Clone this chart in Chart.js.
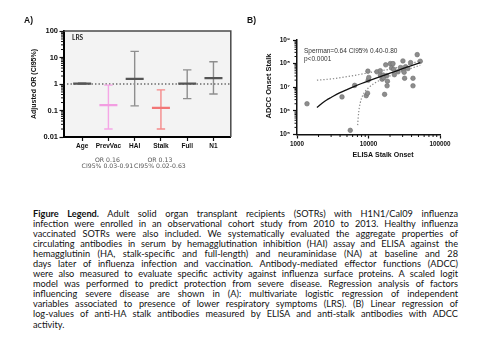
<!DOCTYPE html>
<html><head><meta charset="utf-8">
<script src="https://cdn.jsdelivr.net/npm/chart.js@4.4.1/dist/chart.umd.min.js"></script>
<style>
html,body{margin:0;padding:0;background:#fff;width:485px;height:357px;overflow:hidden;}
#ca{position:absolute;left:0;top:0;}
#cb{position:absolute;left:242px;top:0;}
#legend{position:absolute;left:33px;top:208.5px;width:425px;font-family:Lato,'Liberation Sans',sans-serif;font-size:9.2px;line-height:10.1px;color:#111;}
#legend div{text-align:justify;text-align-last:justify;white-space:normal;height:10.1px;}
#legend div.last{text-align-last:left;}
</style></head>
<body>
<canvas id="ca" width="242" height="175"></canvas>
<canvas id="cb" width="243" height="175"></canvas>
<div id="legend">
<div><b>Figure Legend.</b> Adult solid organ transplant recipients (SOTRs) with H1N1/Cal09 influenza</div>
<div>infection were enrolled in an observational cohort study from 2010 to 2013. Healthy influenza</div>
<div>vaccinated SOTRs were also included. We systematically evaluated the aggregate properties of</div>
<div>circulating antibodies in serum by hemagglutination inhibition (HAI) assay and ELISA against the</div>
<div>hemagglutinin (HA, stalk-specific and full-length) and neuraminidase (NA) at baseline and 28</div>
<div>days later of influenza infection and vaccination. Antibody-mediated effector functions (ADCC)</div>
<div>were also measured to evaluate specific activity against influenza surface proteins. A scaled logit</div>
<div>model was performed to predict protection from severe disease. Regression analysis of factors</div>
<div>influencing severe disease are shown in (A): multivariate logistic regression of independent</div>
<div>variables associated to presence of lower respiratory symptoms (LRS). (B) Linear regression of</div>
<div>log-values of anti-HA stalk antibodies measured by ELISA and anti-stalk antibodies with ADCC</div>
<div class="last">activity.</div>
</div>
<script>
// ---------- Panel A data ----------
const categories = ['Age','PrevVac','HAI','Stalk','Full','N1'];
const orMean = [1.04, 0.16, 1.55, 0.125, 1.04, 1.66];
const orLow  = [0.97, 0.02, 0.15, 0.02, 0.28, 0.42];
const orHigh = [1.10, 0.91, 17, 0.60, 3.4, 6.9];
const groupKind = ['gray','pink','gray','red','gray','gray'];
const yTicksA = [0.01, 0.1, 1, 10, 100];
const yTickLabelsA = ['0.01','0.1','1','10','100'];
const noteCategory = ['PrevVac','Stalk'];
const noteLine1 = ['OR 0.16','OR 0.13'];
const noteLine2 = ['CI95% 0.03-0.91','CI95% 0.02-0.63'];
const referenceOR = 1;

// ---------- Panel B data ----------
const elisaStalk = [1380, 4260, 5560, 6400, 9300, 9700, 9800, 9900, 10100, 13100, 14600, 14700, 15500, 16000, 16300, 16800, 17400, 18000, 18200, 18400, 20200, 21000, 22000, 22500, 23000, 25900, 28000, 30300, 30800, 31500, 32000, 33000, 35600, 38800, 41900, 41900, 48000, 53000];
const adccStalk  = [2.0e6, 3.9e6, 1.5e5, 1.2e7, 4.4e6, 5.6e6, 4.8e7, 2.0e7, 2.6e7, 4.5e7, 5.0e7, 3.2e7, 2.2e7, 3.3e7, 2.5e7, 5.0e6, 8.9e7, 3.1e7, 1.15e7, 1.8e7, 1.0e8, 6.5e7, 1.0e8, 5.8e7, 3.4e7, 4.5e7, 6.8e7, 1.3e8, 5.3e7, 4.3e7, 2.4e7, 7.4e7, 6.2e7, 1.1e8, 2.4e7, 1.15e7, 2.4e8, 1.26e8];
const fitX = [1900, 2200, 2600, 3000, 4000, 5000, 6500, 8000, 10000, 14000, 20000, 30000, 40000, 53000];
const fitY = [1.4e6, 2.0e6, 2.9e6, 3.7e6, 5.9e6, 8.0e6, 1.12e7, 1.44e7, 1.86e7, 2.7e7, 4.0e7, 6.1e7, 8.2e7, 1.1e8];
const ciUpX = [1900, 3000, 5000, 8000, 10000, 15000, 20000, 30000, 40000, 53000];
const ciUpY = [2.0e7, 2.25e7, 2.8e7, 3.6e7, 4.1e7, 5.0e7, 5.8e7, 7.8e7, 1.0e8, 1.4e8];
const ciLoX = [7050, 7300, 7700, 8300, 9000, 10000, 12000, 15000, 20000, 30000, 40000, 53000];
const ciLoY = [2.5e5, 9e5, 2.3e6, 4.5e6, 6.8e6, 9.5e6, 1.45e7, 2.1e7, 3.0e7, 4.7e7, 6.4e7, 8.5e7];
const xTicksB = [1000, 10000, 100000];
const xTickLabelsB = ['1000','10000','100000'];
const yTicksB = [1e5, 1e6, 1e7, 1e8, 1e9];
const yTickLabelsB = ['10\u2075','10\u2076','10\u2077','10\u2078','10\u2079'];
const statLine1 = 'Sperman=0.64 CI95% 0.40-0.80';
const statLine2 = 'p<0.0001';
const minorMultiples = [2,3,4,5,6,7,8,9];

// ---------- styles ----------
const FONT = "'Liberation Sans', Arial, sans-serif";
Chart.defaults.font.family = FONT;
const palette = {
  gray: {bar:'#8e8e8e', mean:'#555555'},
  pink: {bar:'#f5a6e6', mean:'#f29de1'},
  red:  {bar:'#f58a8a', mean:'#f27676'}
};

const minorTicks = {
  id: 'minorTicks',
  afterDraw(chart, args, opts) {
    const ctx = chart.ctx;
    (opts.axes || []).forEach(a => {
      const s = chart.scales[a.id];
      ctx.save();
      ctx.strokeStyle = a.color || '#111';
      ctx.lineWidth = a.width || 1;
      ctx.beginPath();
      for (let k = 0; k < a.decades.length - 1; k++) {
        minorMultiples.forEach(m => {
          const v = a.decades[k] * m;
          const p = s.getPixelForValue(v);
          if (s.isHorizontal()) {
            ctx.moveTo(p, s.top); ctx.lineTo(p, s.top + a.len);
          } else {
            ctx.moveTo(s.right, p); ctx.lineTo(s.right - a.len, p);
          }
        });
      }
      ctx.stroke();
      ctx.restore();
    });
  }
};

// ---------- Chart A ----------
const frameA = {
  id: 'frameA',
  beforeDraw(chart) {
    const {ctx, chartArea: c} = chart;
    ctx.save();
    ctx.fillStyle = '#f3f3f3';
    ctx.fillRect(c.left, c.top, c.right - c.left, c.bottom - c.top);
    ctx.restore();
  },
  afterDraw(chart) {
    const {ctx, chartArea: c, scales} = chart;
    ctx.save();
    ctx.strokeStyle = '#4a4a4a';
    ctx.lineWidth = 1.5;
    ctx.beginPath();
    ctx.moveTo(c.left, c.top); ctx.lineTo(c.right, c.top); ctx.lineTo(c.right, c.bottom);
    ctx.stroke();
    ctx.fillStyle = '#111';
    ctx.textBaseline = 'middle';
    ctx.font = 'bold 8.5px ' + FONT;
    ctx.fillText('A)', 24, 21);
    ctx.font = 'bold 6.5px Lato, ' + FONT;
    ctx.fillStyle = '#222';
    ctx.fillText('LRS', 72, 38);
    ctx.fillStyle = '#555';
    ctx.textAlign = 'center';
    ctx.font = '6.2px "DejaVu Sans", ' + FONT;
    noteCategory.forEach((cat, k) => {
      const px = scales.x.getPixelForValue(categories.indexOf(cat) + 1) - 1;
      ctx.fillText(noteLine1[k], px, 160);
      ctx.fillText(noteLine2[k], px, 166.5);
    });
    ctx.fillStyle = '#111';
    ctx.font = 'bold 7px ' + FONT;
    ctx.translate(34, 84);
    ctx.rotate(-Math.PI / 2);
    ctx.fillText('Adjusted OR (CI95%)', 0, 0);
    ctx.restore();
  }
};

const xMinA = 0.29, xMaxA = 6.66;
const capColors = categories.flatMap((c, i) => [palette[groupKind[i]].bar, palette[groupKind[i]].bar]);

new Chart(document.getElementById('ca'), {
  type: 'scatter',
  data: {
    datasets: [
      {type:'line', data:[{x:xMinA, y:referenceOR},{x:xMaxA, y:referenceOR}], borderColor:'#222', borderWidth:1.2, borderDash:[1.4,2.1], pointRadius:0, order:5},
      ...categories.map((c, i) => ({
        type:'line',
        data:[{x:i+1, y:orLow[i]}, {x:i+1, y:orHigh[i]}],
        borderColor: palette[groupKind[i]].bar, borderWidth:1.4, pointRadius:0, order:3
      })),
      {type:'scatter', data: categories.flatMap((c, i) => [{x:i+1, y:orLow[i]}, {x:i+1, y:orHigh[i]}]),
        pointStyle:'line', pointRadius:4.2, pointBorderWidth:1.4, pointBorderColor: capColors, pointBackgroundColor: capColors, order:2},
      {type:'scatter', data: categories.map((c, i) => ({x:i+1, y:orMean[i]})),
        pointStyle:'line', pointRadius:9, pointBorderWidth:2.2,
        pointBorderColor: categories.map((c, i) => palette[groupKind[i]].mean),
        pointBackgroundColor: categories.map((c, i) => palette[groupKind[i]].mean), order:1}
    ]
  },
  options: {
    responsive:false, animation:false, events:[],
    layout:{padding:{left:0, top:31, right:5.5, bottom:0}},
    plugins:{legend:{display:false}, tooltip:{enabled:false},
      minorTicks:{axes:[{id:'y', decades:yTicksA, len:2.5, width:1}]}},
    scales:{
      x:{type:'linear', min:xMinA, max:xMaxA,
        afterBuildTicks: s => { s.ticks = categories.map((c, i) => ({value:i+1})); },
        afterFit: s => { s.height = 38; },
        ticks:{autoSkip:false, maxRotation:0, minRotation:0, padding:1.5, color:'#111',
          font:{size:6.5, weight:'bold'}, callback:(v, i) => categories[i]},
        grid:{display:true, drawOnChartArea:false, tickLength:4, tickColor:'#111', tickWidth:1.2},
        border:{display:true, color:'#000', width:2}
      },
      y:{type:'logarithmic', min:0.01, max:100,
        afterBuildTicks: s => { s.ticks = yTicksA.map(v => ({value:v})); },
        afterFit: s => { s.width = 63.5; },
        ticks:{autoSkip:false, padding:1.5, color:'#111', font:{size:7.5, weight:'bold'},
          callback:(v, i) => yTickLabelsA[i]},
        grid:{display:true, drawOnChartArea:false, tickLength:4, tickColor:'#111', tickWidth:1.2},
        border:{display:true, color:'#000', width:2}
      }
    }
  },
  plugins:[frameA, minorTicks]
});

// ---------- Chart B ----------
const textB = {
  id: 'textB',
  afterDraw(chart) {
    const {ctx, chartArea: c} = chart;
    ctx.save();
    ctx.fillStyle = '#111';
    ctx.textBaseline = 'middle';
    ctx.font = 'bold 8.5px ' + FONT;
    ctx.fillText('B)', 5, 21);
    ctx.font = '6.5px ' + FONT;
    ctx.fillStyle = '#333';
    ctx.fillText(statLine1, c.left + 7, 51);
    ctx.fillText(statLine2, c.left + 7, 59);
    ctx.fillStyle = '#111';
    ctx.textAlign = 'center';
    ctx.font = 'bold 7px ' + FONT;
    ctx.fillText('ELISA Stalk Onset', 141, 155);
    ctx.font = 'bold 7.5px ' + FONT;
    ctx.translate(27, 86);
    ctx.rotate(-Math.PI / 2);
    ctx.fillText('ADCC Onset Stalk', 0, 0);
    ctx.restore();
  }
};

new Chart(document.getElementById('cb'), {
  type: 'scatter',
  data: {
    datasets: [
      {type:'line', data: fitX.map((x, i) => ({x, y:fitY[i]})), borderColor:'#111', borderWidth:1.3,
        pointRadius:0, cubicInterpolationMode:'monotone', order:1},
      {type:'line', data: ciUpX.map((x, i) => ({x, y:ciUpY[i]})), borderColor:'#8a8a8a', borderWidth:1.2,
        borderDash:[1.3,1.9], pointRadius:0, cubicInterpolationMode:'monotone', order:2},
      {type:'line', data: ciLoX.map((x, i) => ({x, y:ciLoY[i]})), borderColor:'#8a8a8a', borderWidth:1.2,
        borderDash:[1.3,1.9], pointRadius:0, cubicInterpolationMode:'monotone', order:2},
      {type:'scatter', data: elisaStalk.map((x, i) => ({x, y:adccStalk[i]})),
        pointRadius:2.3, pointBackgroundColor:'#8d8d8d', pointBorderColor:'#6f6f6f', pointBorderWidth:0.6, order:3}
    ]
  },
  options: {
    responsive:false, animation:false, events:[],
    layout:{padding:{left:0, top:40, right:45, bottom:0}},
    plugins:{legend:{display:false}, tooltip:{enabled:false},
      minorTicks:{axes:[{id:'x', decades:xTicksB, len:2.5, width:1}, {id:'y', decades:yTicksB, len:2.5, width:1}]}},
    scales:{
      x:{type:'logarithmic', min:1000, max:100000,
        afterBuildTicks: s => { s.ticks = xTicksB.map(v => ({value:v})); },
        afterFit: s => { s.height = 40.5; },
        ticks:{autoSkip:false, maxRotation:0, minRotation:0, padding:1.5, color:'#111',
          font:{size:6.3, weight:'bold'}, callback:(v, i) => xTickLabelsB[i]},
        grid:{display:true, drawOnChartArea:false, tickLength:4, tickColor:'#111', tickWidth:1.2},
        border:{display:true, color:'#111', width:1.5}
      },
      y:{type:'logarithmic', min:1e5, max:1e9,
        afterBuildTicks: s => { s.ticks = yTicksB.map(v => ({value:v})); },
        afterFit: s => { s.width = 55; },
        ticks:{autoSkip:false, padding:3, color:'#111', font:{size:6.5, weight:'bold'},
          callback:(v, i) => yTickLabelsB[i]},
        grid:{display:true, drawOnChartArea:false, tickLength:4, tickColor:'#111', tickWidth:1.2},
        border:{display:true, color:'#111', width:1.5}
      }
    }
  },
  plugins:[textB, minorTicks]
});
</script>
</body></html>
